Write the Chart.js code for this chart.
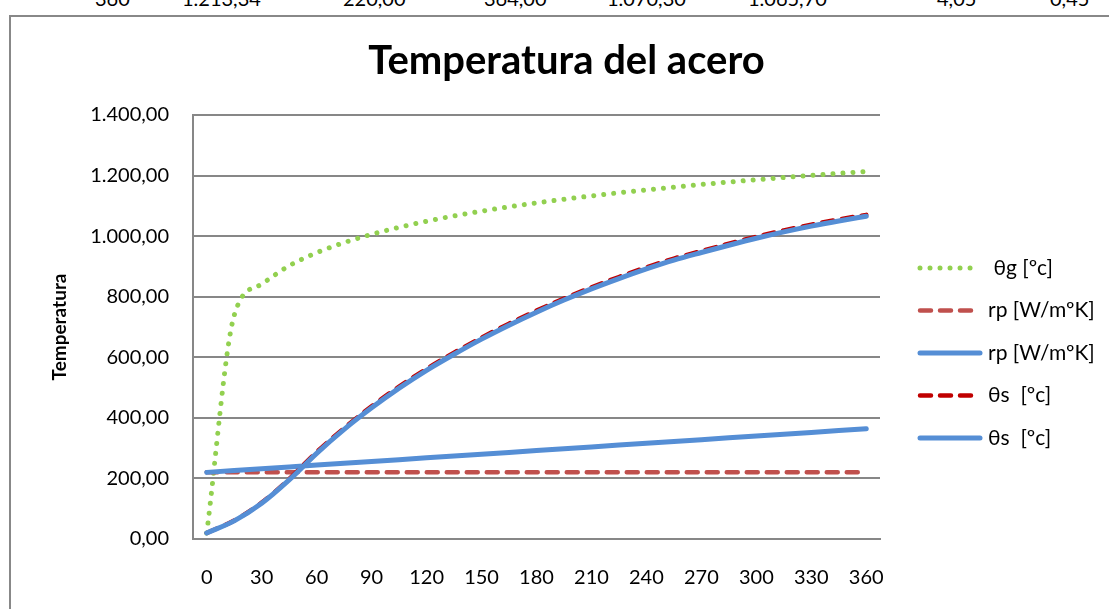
<!DOCTYPE html>
<html>
<head>
<meta charset="utf-8">
<script src="https://cdn.jsdelivr.net/npm/chart.js@4"></script>
<style>
  body { margin: 0; background: #fff; overflow: hidden; font-family: Lato, sans-serif; }
  #celdas span { position: absolute; top: -14px; font-size: 20px; line-height: 24px; color: #000; white-space: nowrap; }
  #marco { position: absolute; left: 9px; top: 15px; width: 1200px; height: 700px; border: 2px solid #888; }
  #wrap { position: absolute; left: 0; top: 0; width: 1109px; height: 609px; }
</style>
</head>
<body>
<div id="celdas">
  <span style="left:95px">360</span>
  <span style="left:182px">1.213,34</span>
  <span style="left:343px">220,00</span>
  <span style="left:484px">364,00</span>
  <span style="left:607px">1.070,30</span>
  <span style="left:748px">1.065,70</span>
  <span style="left:937px">4,05</span>
  <span style="left:1050px">0,45</span>
</div>
<div id="marco"></div>
<div id="wrap"><canvas id="graficoAcero"></canvas></div>
<script>
// minutos cada 15
var minutos = ["0", "15", "30", "45", "60", "75", "90", "105", "120", "135", "150", "165", "180",
  "195", "210", "225", "240", "255", "270", "285", "300", "315", "330", "345", "360"];

var thetaG = [20.0, 738.6, 841.8, 902.3, 945.3, 978.7, 1006.0, 1029.1, 1049.0, 1066.7, 1082.4, 1096.7, 1109.7,
  1121.7, 1132.8, 1143.2, 1152.8, 1161.9, 1170.5, 1178.5, 1186.2, 1193.5, 1200.5, 1207.2, 1213.34];

var rpRojo = [220, 220, 220, 220, 220, 220, 220, 220, 220, 220, 220, 220, 220,
  220, 220, 220, 220, 220, 220, 220, 220, 220, 220, 220, 220];

var rpAzul = [220, 226, 232, 238, 244, 250, 256, 262, 268, 274, 280, 286, 292,
  298, 304, 310, 316, 322, 328, 334, 340, 346, 352, 358, 364];

var thetaSRojo = [20, 61, 120, 198, 287, 366, 438, 503, 562, 615, 665, 711, 754,
  794, 831, 865, 897, 926, 951, 975, 998, 1019, 1038, 1055, 1070.3];

var thetaSAzul = [20, 60, 118, 195, 283, 362, 433, 498, 557, 610, 660, 706, 749,
  789, 826, 860, 892, 921, 946, 970, 993, 1014, 1033, 1050, 1065.7];

var yTicks = ["0,00", "200,00", "400,00", "600,00", "800,00", "1.000,00", "1.200,00", "1.400,00"];

var gris = "#878787";
var verde = "#92D050";
var rojo = "#C0504D";
var rojoOscuro = "#C00000";
var azul = "#558ED5";

Chart.defaults.font.family = "Lato";
Chart.defaults.color = "#000";

// leyenda al estilo Excel: trazo con el mismo guion que la serie
var leyendaExcel = {
  id: "leyendaExcel",
  afterDraw: function (chart) {
    var ctx = chart.ctx;
    var x0 = chart.chartArea.right + 40;
    var y0 = chart.chartArea.top + 153;
    chart.data.datasets.forEach(function (ds, i) {
      var y = y0 + i * 42.5;
      ctx.save();
      ctx.strokeStyle = ds.borderColor;
      ctx.lineWidth = ds.borderWidth;
      ctx.lineCap = ds.borderCapStyle || "butt";
      ctx.setLineDash(ds.borderDash || []);
      ctx.beginPath();
      ctx.moveTo(x0, y);
      ctx.lineTo(x0 + 60, y);
      ctx.stroke();
      ctx.setLineDash([]);
      ctx.fillStyle = "#000";
      ctx.font = "21px Lato";
      ctx.textBaseline = "middle";
      ctx.fillText(ds.label, x0 + 68, y);
      ctx.restore();
    });
  },
};

new Chart(document.getElementById("graficoAcero"), {
  type: "line",
  data: {
    labels: minutos,
    datasets: [
      {
        label: " θg [ºc]",
        data: thetaG,
        borderColor: verde,
        borderWidth: 5,
        borderDash: [0.01, 10],
        borderCapStyle: "round",
        cubicInterpolationMode: "monotone",
        pointRadius: 0,
        order: 4,
      },
      {
        label: "rp [W/mºK]",
        data: rpRojo,
        borderColor: rojo,
        borderWidth: 4.5,
        borderDash: [11, 9],
        borderCapStyle: "round",
        pointRadius: 0,
        order: 3,
      },
      {
        label: "rp [W/mºK]",
        data: rpAzul,
        borderColor: azul,
        borderWidth: 5,
        borderCapStyle: "round",
        pointRadius: 0,
        order: 2,
      },
      {
        label: "θs  [ºc]",
        data: thetaSRojo,
        borderColor: rojoOscuro,
        borderWidth: 4.5,
        borderDash: [11, 9],
        borderCapStyle: "round",
        cubicInterpolationMode: "monotone",
        pointRadius: 0,
        order: 1,
      },
      {
        label: "θs  [ºc]",
        data: thetaSAzul,
        borderColor: azul,
        borderWidth: 5,
        borderCapStyle: "round",
        cubicInterpolationMode: "monotone",
        pointRadius: 0,
        order: 0,
      },
    ],
  },
  options: {
    responsive: true,
    maintainAspectRatio: false,
    animation: false,
    layout: {
      padding: { left: 46, right: 22, top: 0, bottom: 0 },
    },
    plugins: {
      title: {
        display: true,
        text: "Temperatura del acero",
        color: "#000",
        font: { size: 40, weight: "bold" },
        padding: { top: 37, bottom: 30 },
      },
      legend: { display: false },
      tooltip: { enabled: false },
    },
    scales: {
      x: {
        type: "category",
        offset: true,
        grid: { display: false, drawTicks: false },
        border: { display: true, color: gris, width: 2 },
        ticks: {
          autoSkip: false,
          maxRotation: 0,
          padding: 27,
          font: { size: 20 },
          color: "#000",
          callback: function (value, index) {
            return index % 2 === 0 ? minutos[index] : "";
          },
        },
        afterFit: function (scale) {
          scale.height = 70;
        },
      },
      y: {
        min: 0,
        max: 1400,
        grid: { color: gris, lineWidth: 2, drawTicks: false },
        border: { display: true, color: gris, width: 2 },
        ticks: {
          stepSize: 200,
          padding: 24,
          font: { size: 20 },
          color: "#000",
          callback: function (value) {
            return yTicks[Math.round(value / 200)];
          },
        },
        title: {
          display: true,
          text: "Temperatura",
          color: "#000",
          font: { size: 19, weight: "bold" },
          padding: { top: 2, bottom: 0 },
        },
        afterFit: function (scale) {
          scale.width = 147;
        },
      },
      y2: {
        position: "right",
        grid: { display: false, drawTicks: false },
        border: { display: false },
        ticks: { display: false },
        afterFit: function (scale) {
          scale.width = 207;
        },
      },
    },
  },
  plugins: [leyendaExcel],
});
</script>
</body>
</html>
